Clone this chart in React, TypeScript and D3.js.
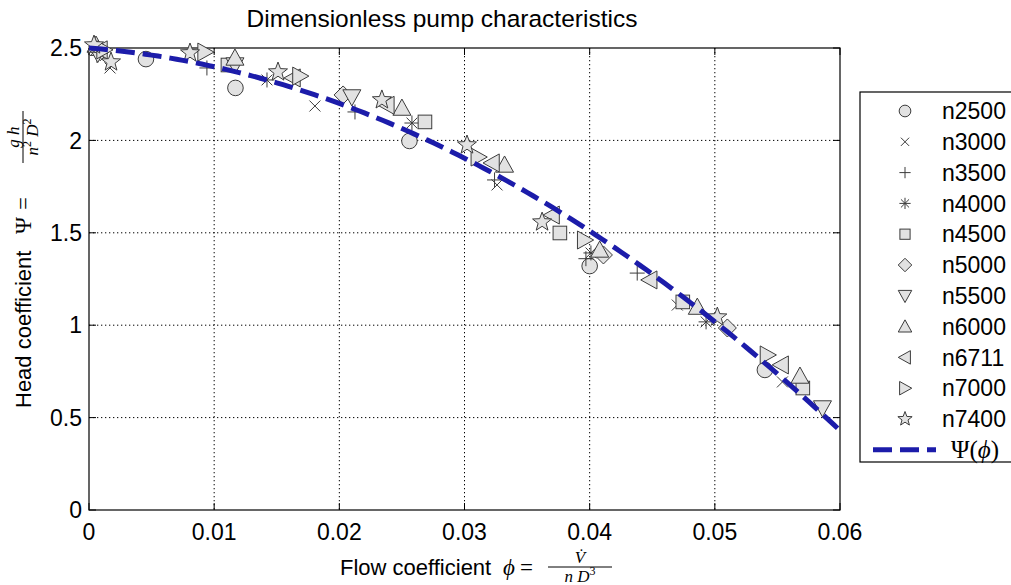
import React from "react";
import * as d3 from "d3";

const W = 1011;
const H = 585;

const title = "Dimensionless pump characteristics";
const xTicks = [0, 0.01, 0.02, 0.03, 0.04, 0.05, 0.06];
const yTicks = [0, 0.5, 1, 1.5, 2, 2.5];

// Measured points [phi, psi] per rotational speed
const n2500: [number, number][] = [[0.00455, 2.44], [0.0117, 2.284], [0.0256, 1.997], [0.04, 1.32], [0.054, 0.758]];
const n3000: [number, number][] = [[0.00168, 2.392], [0.01805, 2.186], [0.0326, 1.759], [0.047, 1.109], [0.0554, 0.693]];
const n3500: [number, number][] = [[0.00064, 2.46], [0.00942, 2.392], [0.02125, 2.154], [0.0324, 1.786], [0.0397, 1.36], [0.0438, 1.282]];
const n4000: [number, number][] = [[0.00056, 2.49], [0.01422, 2.327], [0.0258, 2.094], [0.0401, 1.391], [0.0493, 1.018]];
const n4500: [number, number][] = [[0.0111, 2.408], [0.02684, 2.1], [0.03762, 1.499], [0.04744, 1.126], [0.05703, 0.66]];
const n5000: [number, number][] = [[0.0009, 2.48], [0.0203, 2.246], [0.0411, 1.38], [0.051, 0.985]];
const n5500: [number, number][] = [[0.0007, 2.47], [0.01166, 2.408], [0.021, 2.235], [0.0586, 0.552]];
const n6000: [number, number][] = [[0.00056, 2.516], [0.01166, 2.446], [0.025, 2.175], [0.0332, 1.867], [0.0408, 1.407], [0.0486, 1.098], [0.0568, 0.725]];
const n6711: [number, number][] = [[0.00088, 2.49], [0.0163, 2.338], [0.0238, 2.19], [0.0322, 1.878], [0.037, 1.596], [0.0448, 1.245], [0.0553, 0.785]];
const n7000: [number, number][] = [[0.0012, 2.49], [0.00927, 2.478], [0.01685, 2.348], [0.0311, 1.91], [0.0396, 1.461], [0.0542, 0.839]];
const n7400: [number, number][] = [[0.0004, 2.516], [0.00176, 2.424], [0.00807, 2.473], [0.0151, 2.37], [0.0234, 2.219], [0.0302, 1.975], [0.0362, 1.558], [0.0502, 1.044]];

const seriesNames = ["n2500", "n3000", "n3500", "n4000", "n4500", "n5000", "n5500", "n6000", "n6711", "n7000", "n7400"];
const seriesData = [n2500, n3000, n3500, n4000, n4500, n5000, n5500, n6000, n6711, n7000, n7400];
const seriesMarkers = ["circle", "x", "plus", "asterisk", "square", "diamond", "tdown", "tup", "tleft", "tright", "star"];

// Fitted characteristic Psi(phi) = c0 + c1*phi + c2*phi^2
const fitC0 = 2.5;
const fitC1 = -5.25;
const fitC2 = -487.5;

const margin = { left: 89, top: 48, right: 840, bottom: 510 };
const x = d3.scaleLinear().domain([0, 0.06]).range([margin.left, margin.right]);
const y = d3.scaleLinear().domain([0, 2.5]).range([margin.bottom, margin.top]);

const FILL = "#e2e2e2";
const STROKE = "#3c3c3c";
const BLUE = "#1c1caa";
const SANS = "'Liberation Sans', Arial, Helvetica, sans-serif";
const SERIF = "'Liberation Serif', 'DejaVu Serif', serif";
const PHI = "\u03D5";

function starPath(s: number) {
  const pts: string[] = [];
  for (let i = 0; i < 10; i++) {
    const r = i % 2 === 0 ? s : s * 0.42;
    const a = -Math.PI / 2 + (i * Math.PI) / 5;
    pts.push(`${(r * Math.cos(a)).toFixed(2)},${(r * Math.sin(a)).toFixed(2)}`);
  }
  return "M" + pts.join("L") + "Z";
}

function Marker({ kind, cx, cy, scale = 1 }: { kind: string; cx: number; cy: number; scale?: number }) {
  const t = `translate(${cx},${cy})`;
  const common = { fill: FILL, stroke: STROKE, strokeWidth: 1 };
  switch (kind) {
    case "circle":
      return <circle cx={cx} cy={cy} r={7.8 * scale} {...common} />;
    case "x": {
      const s = 5.5 * scale;
      return <path transform={t} d={`M${-s},${-s}L${s},${s}M${-s},${s}L${s},${-s}`} fill="none" stroke={STROKE} strokeWidth={1} />;
    }
    case "plus": {
      const s = 7.5 * scale;
      return <path transform={t} d={`M${-s},0L${s},0M0,${-s}L0,${s}`} fill="none" stroke={STROKE} strokeWidth={1} />;
    }
    case "asterisk": {
      const s = 7.5 * scale;
      const k = s * 0.72;
      return (
        <path
          transform={t}
          d={`M${-s},0L${s},0M0,${-s}L0,${s}M${-k},${-k}L${k},${k}M${-k},${k}L${k},${-k}`}
          fill="none"
          stroke={STROKE}
          strokeWidth={1}
        />
      );
    }
    case "square": {
      const s = 6.8 * scale;
      return <rect x={cx - s} y={cy - s} width={2 * s} height={2 * s} {...common} />;
    }
    case "diamond": {
      const s = 9 * scale;
      return <path transform={t} d={`M0,${-s}L${s},0L0,${s}L${-s},0Z`} {...common} />;
    }
    case "tup": {
      const s = 9 * scale;
      return <path transform={t} d={`M0,${-s}L${s},${s * 0.8}L${-s},${s * 0.8}Z`} {...common} />;
    }
    case "tdown": {
      const s = 9 * scale;
      return <path transform={t} d={`M0,${s}L${s},${-s * 0.8}L${-s},${-s * 0.8}Z`} {...common} />;
    }
    case "tleft": {
      const s = 9 * scale;
      return <path transform={t} d={`M${-s},0L${s * 0.8},${-s}L${s * 0.8},${s}Z`} {...common} />;
    }
    case "tright": {
      const s = 9 * scale;
      return <path transform={t} d={`M${s},0L${-s * 0.8},${-s}L${-s * 0.8},${s}Z`} {...common} />;
    }
    case "star":
      return <path transform={t} d={starPath(10 * scale)} {...common} />;
    default:
      return null;
  }
}

export default function App() {
  const curvePts = d3.range(0, 0.06 + 1e-9, 0.0005).map((p) => [p, fitC0 + fitC1 * p + fitC2 * p * p] as [number, number]);
  const line = d3
    .line<[number, number]>()
    .x((d) => x(d[0]))
    .y((d) => y(d[1]));

  const tickLen = 7;
  const legendX = 860;
  const legendY = 92;
  const legendRow = 30.8;

  return (
    <svg width={W} height={H} style={{ position: "absolute", left: 0, top: 0, background: "#fff" }} fontFamily={SANS}>
      <rect width={W} height={H} fill="#fff" />
      {/* grid */}
      {xTicks.slice(1, -1).map((t) => (
        <line key={"gx" + t} x1={x(t)} x2={x(t)} y1={margin.top} y2={margin.bottom} stroke="#000" strokeWidth={1} strokeDasharray="1.3,2.7" />
      ))}
      {yTicks.slice(1, -1).map((t) => (
        <line key={"gy" + t} x1={margin.left} x2={margin.right} y1={y(t)} y2={y(t)} stroke="#000" strokeWidth={1} strokeDasharray="1.3,2.7" />
      ))}
      {/* ticks */}
      {xTicks.map((t) => (
        <g key={"tx" + t}>
          <line x1={x(t)} x2={x(t)} y1={margin.bottom} y2={margin.bottom - tickLen} stroke="#000" />
          <line x1={x(t)} x2={x(t)} y1={margin.top} y2={margin.top + tickLen} stroke="#000" />
          <text x={x(t)} y={540} fontSize={23} textAnchor="middle" fill="#000">
            {String(t)}
          </text>
        </g>
      ))}
      {yTicks.map((t) => (
        <g key={"ty" + t}>
          <line x1={margin.left} x2={margin.left + tickLen} y1={y(t)} y2={y(t)} stroke="#000" />
          <line x1={margin.right} x2={margin.right - tickLen} y1={y(t)} y2={y(t)} stroke="#000" />
          <text x={82} y={y(t)} dy="0.36em" fontSize={23} textAnchor="end" fill="#000">
            {String(t)}
          </text>
        </g>
      ))}
      {/* frame */}
      <rect x={margin.left} y={margin.top} width={margin.right - margin.left} height={margin.bottom - margin.top} fill="none" stroke="#000" strokeWidth={1.2} />

      {/* markers */}
      {seriesData.map((pts, si) => (
        <g key={seriesNames[si]}>
          {pts.map((p, i) => (
            <Marker key={i} kind={seriesMarkers[si]} cx={x(p[0])} cy={y(p[1])} />
          ))}
        </g>
      ))}

      {/* fitted curve */}
      <path d={line(curvePts) || ""} fill="none" stroke={BLUE} strokeWidth={5} strokeDasharray="19,8" />

      {/* title */}
      <text x={442} y={27} fontSize={24.5} textAnchor="middle" fill="#000">
        {title}
      </text>

      {/* x label */}
      <g transform="translate(0,575)">
        <text x={340} y={0} fontSize={22} fill="#000">
          Flow coefficient
        </text>
        <text x={503} y={0} fontSize={23} fontFamily={SERIF} fontStyle="italic" fill="#000">
          {PHI}
        </text>
        <text x={520} y={0} fontSize={23} fontFamily={SERIF} fill="#000">
          =
        </text>
        <text x={580} y={-12} fontSize={17} fontFamily={SERIF} fontStyle="italic" textAnchor="middle" fill="#000">
          {"V\u0307"}
        </text>
        <line x1={548} x2={612} y1={-8} y2={-8} stroke="#000" strokeWidth={1} />
        <text x={580} y={7} fontSize={17} fontFamily={SERIF} fontStyle="italic" textAnchor="middle" fill="#000">
          n D<tspan fontStyle="normal" fontSize={12} dy={-7}>3</tspan>
        </text>
      </g>

      {/* y label */}
      <g transform="translate(31,408) rotate(-90)">
        <text x={0} y={0} fontSize={22} fill="#000">
          Head coefficient
        </text>
        <text x={174} y={0} fontSize={23} fontFamily={SERIF} fill="#000">
          Ψ
        </text>
        <text x={198} y={0} fontSize={23} fontFamily={SERIF} fill="#000">
          =
        </text>
        <text x={271} y={-12} fontSize={17} fontFamily={SERIF} fontStyle="italic" textAnchor="middle" fill="#000">
          g h
        </text>
        <line x1={245} x2={297} y1={-8} y2={-8} stroke="#000" strokeWidth={1} />
        <text x={271} y={7} fontSize={17} fontFamily={SERIF} fontStyle="italic" textAnchor="middle" fill="#000">
          n<tspan fontStyle="normal" fontSize={12} dy={-7}>2</tspan>
          <tspan dy={7}> D</tspan>
          <tspan fontStyle="normal" fontSize={12} dy={-7}>2</tspan>
        </text>
      </g>

      {/* legend */}
      <rect x={legendX} y={legendY} width={W - legendX + 10} height={370} fill="#fff" stroke="#000" strokeWidth={1.2} />
      {seriesNames.map((name, i) => {
        const cy = legendY + 19 + i * legendRow;
        return (
          <g key={"lg" + name}>
            <Marker kind={seriesMarkers[i]} cx={905} cy={cy} scale={0.75} />
            <text x={942} y={cy} dy="0.36em" fontSize={23} fill="#000">
              {name}
            </text>
          </g>
        );
      })}
      {(() => {
        const cy = legendY + 19 + seriesNames.length * legendRow;
        return (
          <g>
            <line x1={873} x2={936} y1={cy} y2={cy} stroke={BLUE} strokeWidth={5} strokeDasharray="19,8" />
            <text x={951} y={cy} dy="0.34em" fontSize={25} fontFamily={SERIF} fill="#000">
              Ψ(<tspan fontStyle="italic">{PHI}</tspan>)
            </text>
          </g>
        );
      })()}
    </svg>
  );
}
